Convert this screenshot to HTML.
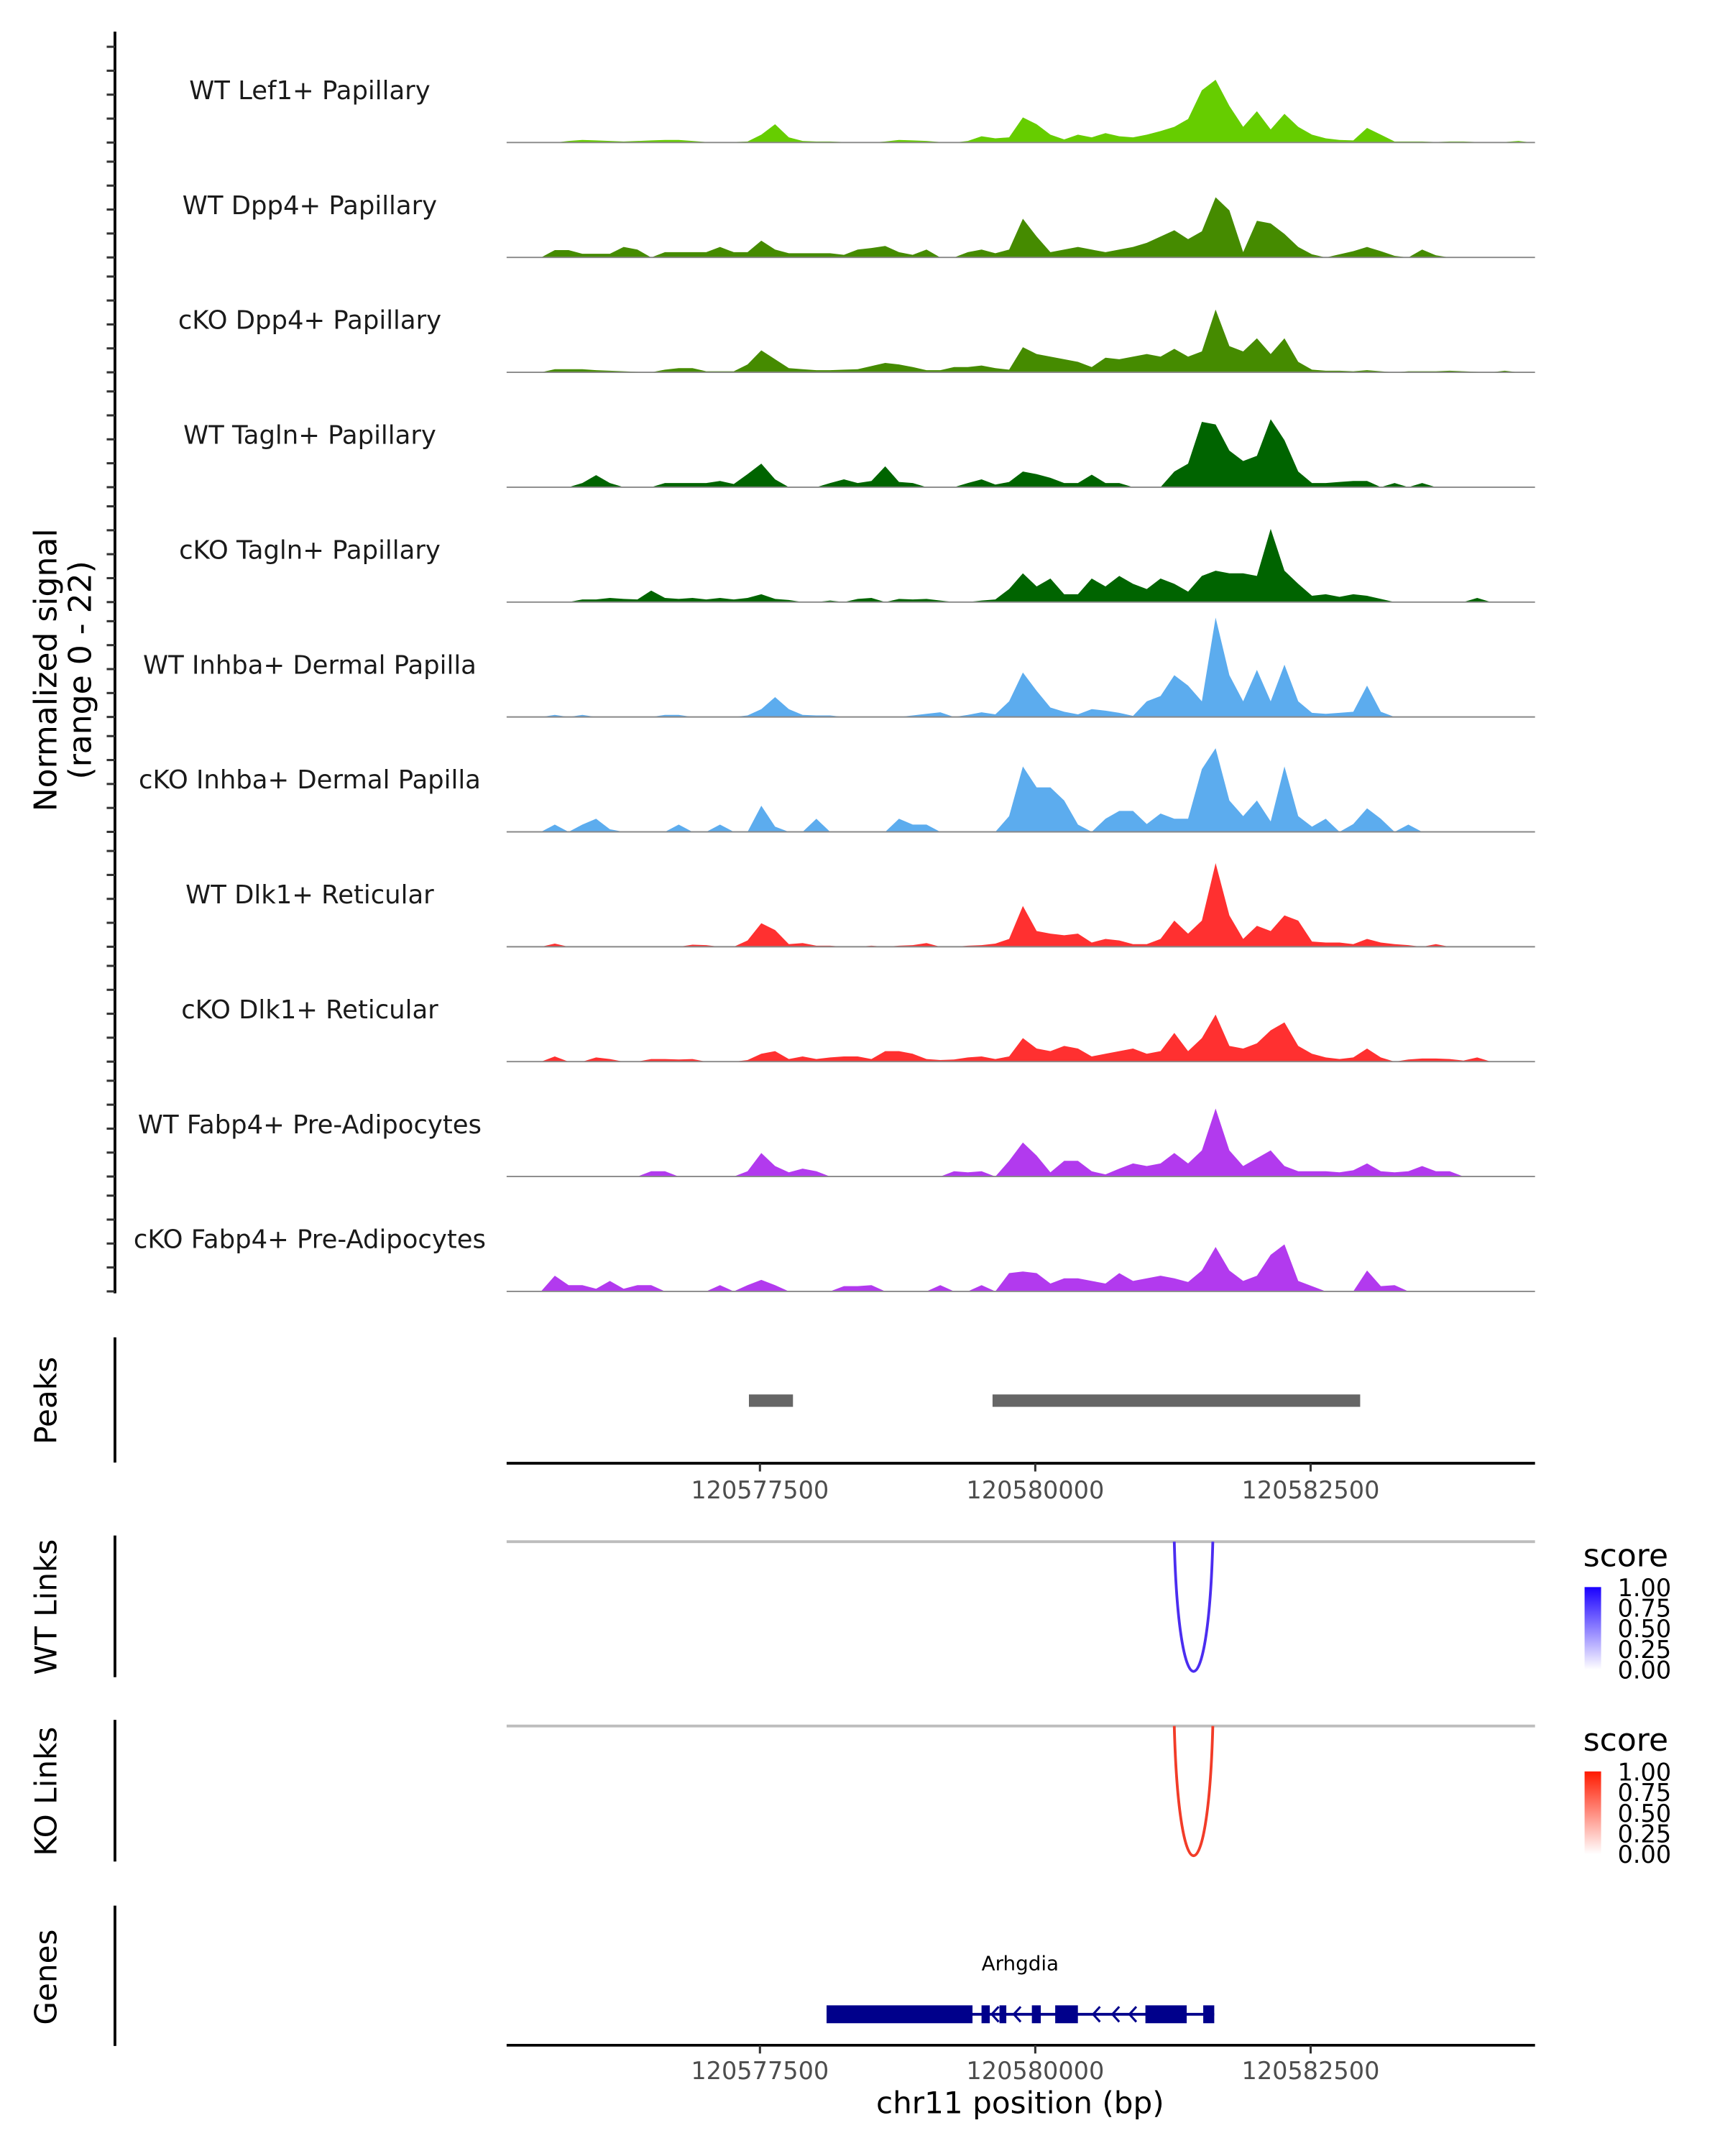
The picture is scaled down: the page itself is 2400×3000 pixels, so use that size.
<!DOCTYPE html>
<html>
<head>
<meta charset="utf-8">
<style>
html,body{margin:0;padding:0;background:#fff;}
svg{display:block;}
text{font-family:"DejaVu Sans","Liberation Sans",sans-serif;}
</style>
</head>
<body>
<svg id="chart" xmlns="http://www.w3.org/2000/svg" width="2400" height="3000" viewBox="0 0 1253 1567" preserveAspectRatio="none">
<g id="signal-tracks"></g>
<g id="left-axes"></g>
<g id="peaks-panel"></g>
<g id="links-panel"></g>
<g id="genes-panel"></g>
<text x="0" y="0" transform="translate(41,487) rotate(-90)" text-anchor="middle" font-size="23" fill="#000">Normalized signal</text>
<text x="0" y="0" transform="translate(66,487) rotate(-90)" text-anchor="middle" font-size="23" fill="#000">(range 0 - 22)</text>
<text x="0" y="0" transform="translate(41,1018) rotate(-90)" text-anchor="middle" font-size="22" fill="#000">Peaks</text>
<text x="0" y="0" transform="translate(41,1168) rotate(-90)" text-anchor="middle" font-size="22" fill="#000">WT Links</text>
<text x="0" y="0" transform="translate(41,1302) rotate(-90)" text-anchor="middle" font-size="22" fill="#000">KO Links</text>
<text x="0" y="0" transform="translate(41,1437) rotate(-90)" text-anchor="middle" font-size="22" fill="#000">Genes</text>
<text x="741" y="1536" text-anchor="middle" font-size="22" fill="#000">chr11 position (bp)</text>
</svg>
<script>
const trackNames = ["WT Lef1+ Papillary","WT Dpp4+ Papillary","cKO Dpp4+ Papillary","WT Tagln+ Papillary","cKO Tagln+ Papillary","WT Inhba+ Dermal Papilla","cKO Inhba+ Dermal Papilla","WT Dlk1+ Reticular","cKO Dlk1+ Reticular","WT Fabp4+ Pre-Adipocytes","cKO Fabp4+ Pre-Adipocytes"];
const trackColors = ["#66cd00","#458b00","#458b00","#006400","#006400","#5cacee","#5cacee","#ff3030","#ff3030","#b23aee","#b23aee"];
const binStart = 120575200;
const binSize = 125;
const sigLef1 = [0,0,0,0,.3,.5,.4,.3,.2,.3,.4,.5,.5,.3,.1,.1,.1,.2,1.5,3.5,1.0,.3,.2,.2,.1,.1,0,.2,.5,.4,.3,.1,0,.3,1.2,.8,1.0,4.8,3.5,1.5,.6,1.5,1.0,1.8,1.2,1.0,1.5,2.2,3.0,4.5,10,12,7,3,6,2.5,5.5,3,1.5,.8,.5,.4,2.8,1.5,.2,.2,.2,.1,.2,.2,.1,.1,.1,.3,0];
const sigWtDpp4 = [0,0,0,1.4,1.4,.7,.7,.7,2,1.5,0,1,1,1,1,2,1,1,3.2,1.5,.8,.8,.8,.8,.5,1.5,1.8,2.2,1,.5,1.5,0,0,1,1.5,.8,1.5,7.4,4,1,1.5,2,1.5,1,1.5,2,2.8,4,5.2,3.5,5,11.5,9,1,7,6.5,4.5,2,.6,0,.6,1.2,2,1.2,.3,0,1.5,.4,0,0,0,0,0,0,0];
const sigKoDpp4 = [0,0,0,.6,.6,.6,.4,.3,.2,.1,0,.5,.8,.8,.2,.2,.2,1.5,4.2,2.5,.8,.6,.4,.4,.5,.6,1.2,1.8,1.5,1,.4,.4,1,1,1.3,.8,.5,4.8,3.5,3,2.5,2,1,2.8,2.5,3,3.5,3,4.5,3,4,12,5,4,6.5,3.5,6.5,2,.5,.3,.3,.2,.4,.2,0,.2,.2,.2,.3,.2,.1,0,.3,0,0];
const sigWtTagln = [0,0,0,0,0,.8,2.3,.8,0,0,0,.8,.8,.8,.8,1.2,.6,2.5,4.5,1.5,0,0,0,.8,1.5,.8,1.2,4,1,.8,0,0,0,.8,1.5,.5,1,3,2.5,1.8,.8,.8,2.4,.8,.8,0,0,0,3,4.5,12.5,12,7,5,6,13,9,3,.8,.8,1,1.2,1.2,0,.8,0,.8,0,0,0,0,0,0,0,0];
const sigKoTagln = [0,0,0,0,0,.5,.5,.8,.6,.5,2.2,.8,.6,.8,.5,.8,.5,.8,1.5,.6,.4,0,0,.3,0,.6,.8,0,.6,.5,.6,.3,0,0,.3,.5,2.5,5.5,3,4.5,1.5,1.5,4.5,3,5,3.5,2.5,4.5,3.5,2,5,6,5.5,5.5,5,14,6,3.5,1.2,1.5,1,1.5,1.2,.6,0,0,0,0,0,0,.8,0,0,0,0];
const sigWtInhba = [0,0,0,.4,0,.4,0,0,0,0,0,.4,.4,0,0,0,0,.3,1.5,3.8,1.5,.4,.3,.3,0,0,0,0,0,.3,.6,.9,0,.4,.9,.5,3,8.5,5,1.8,1,.5,1.5,1.2,.8,.2,3,4,8,6,3,19,8,3,9,3,10,3,.8,.6,.8,1,6,1,0,0,0,0,0,0,0,0,0,0,0];
const sigKoInhba = [0,0,0,1.4,0,1.4,2.5,.5,0,0,0,0,1.4,0,0,1.4,0,0,5,1,0,0,2.5,0,0,0,0,0,2.5,1.4,1.4,0,0,0,0,0,3,12.5,8.5,8.5,6,1.4,0,2.5,4,4,1.5,3.5,2.5,2.5,12,16,6,3,6,2,12.5,3,1,2.5,0,1.5,4.5,2.5,0,1.4,0,0,0,0,0,0,0,0,0];
const sigWtDlk1 = [0,0,0,.6,0,0,0,0,0,0,0,0,0,.4,.3,0,0,1.2,4.5,3.2,.5,.7,.2,.2,0,0,.2,0,.2,.3,.7,0,0,.2,.3,.6,1.5,7.8,3,2.5,2.2,2.5,.8,1.5,1.2,.5,.5,1.5,5,2.5,5,16,6,1.5,4,3,6,5,1,.8,.8,.5,1.5,.8,.5,.3,0,.5,0,0,0,0,0,0,0];
const sigKoDlk1 = [0,0,0,1,0,0,.8,.5,0,0,.5,.5,.4,.5,0,0,0,.3,1.5,2,.5,1,.5,.8,1,1,.5,2,2,1.5,.5,.3,.4,.8,1,.5,1,4.5,2.5,2,3,2.5,1,1.5,2,2.5,1.5,2,5.5,2,4.5,9,3,2.5,3.5,6,7.5,3,1.5,.8,.5,.8,2.5,.8,0,.4,.6,.6,.5,.2,.8,0,0,0,0];
const sigWtFabp4 = [0,0,0,0,0,0,0,0,0,0,1,1,0,0,0,0,0,1,4.5,2,.8,1.5,1,0,0,0,0,0,0,0,0,0,1,.8,1,0,3,6.5,4,.8,3,3,1,.4,1.5,2.5,2,2.5,4.5,2.5,5,13,5,2,3.5,5,2,1,1,1,.8,1.2,2.5,1,.8,1,2,1,1,0,0,0,0,0,0];
const sigKoFabp4 = [0,0,0,3,1.2,1.2,.5,2,.5,1.2,1.2,0,0,0,0,1.2,0,1.2,2.2,1.2,0,0,0,0,1,1,1.2,0,0,0,0,1.2,0,0,1.2,0,3.5,3.8,3.5,1.5,2.5,2.5,2,1.5,3.5,2,2.5,3,2.5,1.8,4,8.5,4,2,3,7,9,2,1,0,0,0,4,1,1.2,0,0,0,0,0,0,0,0,0,0];
const signals = [sigLef1,sigWtDpp4,sigKoDpp4,sigWtTagln,sigKoTagln,sigWtInhba,sigKoInhba,sigWtDlk1,sigKoDlk1,sigWtFabp4,sigKoFabp4];
const xTicks = [120577500,120580000,120582500];
const xTickLabels = ["120577500","120580000","120582500"];
const peakStarts = [120577400,120579612];
const peakEnds = [120577800,120582950];
const wtLinkStart = [120581262];
const wtLinkEnd = [120581612];
const wtLinkScore = [1.0];
const koLinkStart = [120581262];
const koLinkEnd = [120581612];
const koLinkScore = [1.0];
const geneName = "Arhgdia";
const geneStart = 120578105;
const geneEnd = 120581625;
const exonStarts = [120578105,120579512,120579675,120579969,120580181,120581000,120581525];
const exonEnds = [120579430,120579587,120579737,120580050,120580387,120581375,120581625];
const arrowBp = [120579630,120579830,120580550,120580725,120580880];
const legendTicks = [1.00,0.75,0.50,0.25,0.00];
const legendLabels = ["1.00","0.75","0.50","0.25","0.00"];

const NS = "http://www.w3.org/2000/svg";
const X0 = 368, X1 = 1115;
function xScale(bp){ return X0 + (bp - binStart) * 0.08; }
const trackBase0 = 103.6, trackStep = 83.5, pxPerUnit = 3.8;
function yScale(v, base){ return base - v * pxPerUnit; }
function mk(tag, attrs, parent){
  const el = document.createElementNS(NS, tag);
  for (const k in attrs) el.setAttribute(k, attrs[k]);
  parent.appendChild(el);
  return el;
}

const gT = document.getElementById('signal-tracks');
signals.forEach((arr, t) => {
  const base = trackBase0 + t * trackStep;
  const g = mk('g', {}, gT);
  
  
  let d = 'M' + xScale(binStart) + ',' + base;
  arr.forEach((v, i) => {
    const cx = xScale(binStart + i * binSize + binSize / 2);
    d += ' L' + cx.toFixed(2) + ',' + yScale(v, base).toFixed(2);
  });
  d += ' L' + xScale(binStart + arr.length * binSize) + ',' + base + ' Z';
  const p = mk('path', {d: d, fill: trackColors[t], stroke: 'none'}, g);
  
  
  const bl = mk('line', {x1: X0, x2: X1, y1: base, y2: base, stroke: '#888', 'stroke-width': 1}, g);
  
  
  const lab = mk('text', {x: 225, y: base - 31.5, 'text-anchor': 'middle', 'font-size': 18.5, fill: '#1a1a1a'}, g);
  lab.textContent = trackNames[t];
  
  
});

const gA = document.getElementById('left-axes');
function vaxis(y1, y2, name){
  const l = mk('line', {x1: 83.5, x2: 83.5, y1: y1, y2: y2, stroke: '#000', 'stroke-width': 2}, gA);
  
  
}
vaxis(23, 940, 'signal-y-axis');
for (let t = 0; t < 11; t++) {
  const base = trackBase0 + t * trackStep;
  for (let k = 0; k <= 4; k++) {
    const y = base - k * 17.4;
    const tk = mk('line', {x1: 77.5, x2: 83.5, y1: y, y2: y, stroke: '#333', 'stroke-width': 1.6}, gA);
    
    
  }
}
vaxis(972, 1063, 'peaks-y-axis');
vaxis(1116, 1219, 'wt-links-y-axis');
vaxis(1250, 1353, 'ko-links-y-axis');
vaxis(1385, 1487, 'genes-y-axis');

function xaxis(y, labelY, name){
  const g = mk('g', {}, gA);
  
  
  mk('line', {x1: X0, x2: X1, y1: y, y2: y, stroke: '#000', 'stroke-width': 2}, g);
  xTicks.forEach((bp, i) => {
    const x = xScale(bp);
    const tk = mk('line', {x1: x, x2: x, y1: y, y2: y + 6, stroke: '#333', 'stroke-width': 1.6}, g);
    
    
    const tl = mk('text', {x: x, y: labelY, 'text-anchor': 'middle', 'font-size': 17.5, fill: '#4d4d4d'}, g);
    tl.textContent = xTickLabels[i];
    
    
  });
}
xaxis(1063.5, 1089, 'peaks-x-axis');
xaxis(1486.5, 1511, 'genes-x-axis');

const gP = document.getElementById('peaks-panel');
peakStarts.forEach((s, i) => {
  const r = mk('rect', {x: xScale(s), y: 1013.5, width: xScale(peakEnds[i]) - xScale(s), height: 9, fill: '#666'}, gP);
  
  
});

const gL = document.getElementById('links-panel');
const defs = mk('defs', {}, gL);
function grad(id, col){
  const lg = mk('linearGradient', {id: id, x1: 0, y1: 1, x2: 0, y2: 0}, defs);
  mk('stop', {offset: '0', 'stop-color': '#ffffff'}, lg);
  mk('stop', {offset: '1', 'stop-color': col}, lg);
}
grad('gwt', '#1a00ff');
grad('gko', '#ff1a00');
function linkPanel(top, bottom, starts, ends, scores, col, gid, name){
  const g = mk('g', {}, gL);
  
  
  const gl = mk('line', {x1: X0, x2: X1, y1: top, y2: top, stroke: '#bdbdbd', 'stroke-width': 2}, g);
  
  
  starts.forEach((s, i) => {
    const xa = xScale(s), xb = xScale(ends[i]);
    const depth = (bottom - top) * scores[i];
    const d = 'M' + xa + ',' + top + ' C' + (xa + (xb - xa) * 0.12) + ',' + (top + depth * 1.33) + ' ' + (xb - (xb - xa) * 0.12) + ',' + (top + depth * 1.33) + ' ' + xb + ',' + top;
    const p = mk('path', {d: d, fill: 'none', stroke: col, 'stroke-width': 2}, g);
    
    
  });
  const lg = mk('g', {}, g);
  
  
  const lt = mk('text', {x: 1150, y: top + 18, 'font-size': 23, fill: '#000'}, lg);
  lt.textContent = 'score';
  const barTop = top + 33, barH = 60;
  mk('rect', {x: 1151, y: barTop, width: 12, height: barH, fill: 'url(#' + gid + ')'}, lg);
  legendTicks.forEach((v, i) => {
    const y = barTop + (1 - v) * barH;
    const tx = mk('text', {x: 1175, y: y + 6.5, 'font-size': 17.5, fill: '#000'}, lg);
    tx.textContent = legendLabels[i];
    
    
  });
}
linkPanel(1120.5, 1215, wtLinkStart, wtLinkEnd, wtLinkScore, '#4b2df0', 'gwt', 'wt-links');
linkPanel(1254.5, 1349, koLinkStart, koLinkEnd, koLinkScore, '#f23c28', 'gko', 'ko-links');

const gG = document.getElementById('genes-panel');
const gname = mk('text', {x: 741, y: 1432, 'text-anchor': 'middle', 'font-size': 14.5, fill: '#000'}, gG);
gname.textContent = geneName;


const gl = mk('line', {x1: xScale(geneStart), x2: xScale(geneEnd), y1: 1464, y2: 1464, stroke: '#00008b', 'stroke-width': 2}, gG);


exonStarts.forEach((s, i) => {
  const r = mk('rect', {x: xScale(s), y: 1457.5, width: xScale(exonEnds[i]) - xScale(s), height: 13, fill: '#00008b'}, gG);
  
  
});
arrowBp.forEach(bp => {
  const x = xScale(bp);
  const a = mk('path', {d: 'M' + (x + 3) + ',1458.5 L' + (x - 2) + ',1464 L' + (x + 3) + ',1469.5', fill: 'none', stroke: '#00008b', 'stroke-width': 1.6}, gG);
  
  
});
</script>
</body>
</html>
